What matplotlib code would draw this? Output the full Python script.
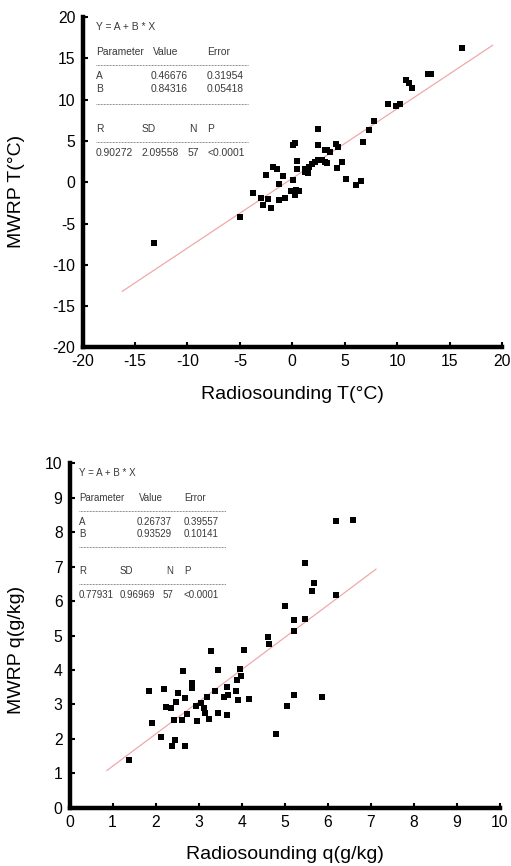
import matplotlib
matplotlib.use("Agg")
import matplotlib.pyplot as plt
from matplotlib.lines import Line2D
import numpy as np

plt.rcParams['font.family'] = ['Liberation Sans', 'DejaVu Sans']
plt.rcParams['axes.unicode_minus'] = False

# ---------------- data: temperature panel ----------------
t_radio = [16.2, 12.9, 13.2, 10.8, 11.1, 11.4, 9.1, 9.9, 10.3, 7.8, 7.35, 6.75, 6.6, 6.1, 5.1,
           4.75, 4.25, 4.2, 4.4, 3.6, 3.3, 3.15, 2.5, 2.5, 3.15, 2.85, 2.5, 2.2, 1.85, 1.55,
           1.25, 1.25, 1.5, 0.45, 0.45, 0.1, 0.3, 0.05, -0.15, 0.4, 0.3, 0.6, -0.65, -1.3, -1.3,
           -0.85, -1.8, -1.45, -2.5, -3.75, -3.0, -2.35, -2.75, -2.05, -5.0, -13.2, 3.3]
t_mwrp = [16.2, 13.1, 13.1, 12.35, 12.05, 11.45, 9.45, 9.25, 9.45, 7.4, 6.35, 4.9, 0.2, -0.35, 0.4,
          2.5, 1.7, 4.65, 4.25, 3.65, 3.95, 3.85, 6.45, 4.45, 2.5, 2.65, 2.65, 2.5, 2.25, 1.85,
          1.65, 1.25, 1.15, 2.55, 1.6, 4.5, 4.75, 0.25, -1.1, -0.95, -1.55, -1.1, -1.95, -2.15, -0.25,
          0.75, 1.85, 1.55, 0.9, -1.35, -1.9, -2.05, -2.7, -3.15, -4.25, -7.4, 2.35]
t_fit = (0.46676, 0.84316)
t_line_x = [-16.2, 19.1]
t_ticks = [-20, -15, -10, -5, 0, 5, 10, 15, 20]
t_table = {
    "eq": "Y = A + B * X",
    "head": ["Parameter", "Value", "Error"],
    "A": ["A", "0.46676", "0.31954"],
    "B": ["B", "0.84316", "0.05418"],
    "stat_head": ["R", "SD", "N", "P"],
    "stat": ["0.90272", "2.09558", "57", "<0.0001"],
}

# ---------------- data: humidity panel ----------------
q_radio = [1.38, 1.85, 1.91, 2.12, 2.19, 2.24, 2.35, 2.44, 2.38, 2.42, 2.48, 2.52, 2.63, 2.62, 2.68,
           2.69, 2.73, 2.85, 2.85, 2.96, 2.94, 3.05, 3.12, 3.14, 3.19, 3.23, 3.28, 3.38, 3.46, 3.46,
           3.6, 3.66, 3.69, 3.65, 3.87, 3.88, 3.91, 3.95, 3.99, 4.05, 4.17, 4.6, 4.63, 4.79, 5.01,
           5.05, 5.22, 5.22, 5.22, 5.48, 5.48, 5.63, 5.69, 5.87, 6.2, 6.2, 6.59]
q_mwrp = [1.38, 3.4, 2.45, 2.06, 3.45, 2.93, 2.9, 1.98, 1.79, 2.55, 3.08, 3.32, 3.98, 2.55, 1.79,
          3.18, 2.72, 3.61, 3.47, 2.52, 2.95, 3.05, 2.89, 2.76, 3.2, 2.59, 4.55, 3.4, 4.0, 2.76,
          3.22, 3.51, 3.27, 2.69, 3.4, 3.71, 3.13, 4.02, 3.82, 4.58, 3.17, 4.97, 4.75, 2.13, 5.87,
          2.95, 5.45, 5.12, 3.27, 7.1, 5.48, 6.3, 6.51, 3.2, 8.33, 6.18, 8.34]
q_fit = (0.26737, 0.93529)
q_line_x = [0.87, 7.12]
q_ticks = list(range(0, 11))
q_table = {
    "eq": "Y = A + B * X",
    "head": ["Parameter", "Value", "Error"],
    "A": ["A", "0.26737", "0.39557"],
    "B": ["B", "0.93529", "0.10141"],
    "stat_head": ["R", "SD", "N", "P"],
    "stat": ["0.77931", "0.96969", "57", "<0.0001"],
}

W, H = 511, 866
fig = plt.figure(figsize=(W / 100, H / 100), dpi=100)
fig.patch.set_facecolor('white')


def style_axes(ax, lim, ticks):
    ax.set_xlim(lim)
    ax.set_ylim(lim)
    ax.set_xticks(ticks)
    ax.set_yticks(ticks)
    for s in ['top', 'right']:
        ax.spines[s].set_visible(False)
    for s in ['left', 'bottom']:
        ax.spines[s].set_linewidth(3.2)
        ax.spines[s].set_color('black')
        ax.spines[s].set_capstyle('projecting')
    ax.tick_params(direction='in', length=3.5, width=1.5, labelsize=11.3, pad=5, colors='black')
    ax.set_facecolor('white')


def draw_table(tab, fs, px):
    col = '#3a3a3a'
    def t(x, y, s, ha='left'):
        fig.text(x / W, 1 - y / H, s, ha=ha, va='center', fontsize=fs, color=col)
    def dash(y):
        fig.add_artist(Line2D([px['x0'] / W, px['xend'] / W], [1 - y / H, 1 - y / H],
                              transform=fig.transFigure, ls=(0, (1, 0.8)), lw=0.6, color='#666666'))
    t(px['x0'], px['y_eq'], tab['eq'])
    t(px['x0'], px['y_head'], tab['head'][0])
    t(px['x_val'], px['y_head'], tab['head'][1])
    t(px['x_err'], px['y_head'], tab['head'][2])
    dash(px['d1'])
    for key, yy in (('A', px['y_A']), ('B', px['y_B'])):
        t(px['x0'], yy, tab[key][0])
        t(px['x_valr'], yy, tab[key][1], ha='right')
        t(px['x_err'], yy, tab[key][2])
    dash(px['d2'])
    sx = [px['x0'], px['x_sd'], px['x_n'], px['x_err']]
    for x, s in zip(sx, tab['stat_head']):
        t(x, px['y_R'], s)
    dash(px['d3'])
    sx2 = [px['x0'], px['x_sd'], px['x_n57'], px['x_err']]
    for x, s in zip(sx2, tab['stat']):
        t(x, px['y_stat'], s)


# ---------------- top panel ----------------
ax1 = fig.add_axes([82.5 / W, 1 - 347.5 / H, 419.5 / W, 330.5 / H])
style_axes(ax1, (-20, 20), t_ticks)
lx = np.array(t_line_x)
ax1.plot(lx, t_fit[0] + t_fit[1] * lx, color='#f0a8ac', lw=0.9, zorder=2)
ax1.scatter(t_radio, t_mwrp, marker='s', s=22, color='black', zorder=3, linewidths=0)
ax1.set_xlabel('Radiosounding T(°C)', fontsize=14)
ax1.set_ylabel('MWRP T(°C)', fontsize=14)
ax1.xaxis.set_label_coords(0.5, -0.115)
ax1.yaxis.set_label_coords(-0.137, 0.473)

draw_table(t_table, 7.4, dict(x0=96, xend=248, y_eq=27, y_head=52, x_val=153, x_err=207, d1=65,
                              y_A=76, y_B=89, x_valr=188, d2=104, y_R=129, x_sd=142, x_n=189,
                              d3=142, y_stat=153, x_n57=188))

# ---------------- bottom panel ----------------
ax2 = fig.add_axes([69.5 / W, 1 - 807.7 / H, 430.5 / W, 344.4 / H])
style_axes(ax2, (0, 10), q_ticks)
lx2 = np.array(q_line_x)
ax2.plot(lx2, q_fit[0] + q_fit[1] * lx2, color='#f0a8ac', lw=0.9, zorder=2)
ax2.scatter(q_radio, q_mwrp, marker='s', s=22, color='black', zorder=3, linewidths=0)
ax2.set_xlabel('Radiosounding q(g/kg)', fontsize=14)
ax2.set_ylabel('MWRP q(g/kg)', fontsize=14)
ax2.xaxis.set_label_coords(0.5, -0.11)
ax2.yaxis.set_label_coords(-0.103, 0.458)

draw_table(q_table, 7.0, dict(x0=79, xend=226, y_eq=473, y_head=498, x_val=139, x_err=184, d1=511,
                              y_A=522, y_B=534, x_valr=172, d2=547, y_R=571, x_sd=120, x_n=166,
                              d3=584, y_stat=595, x_n57=163))

fig.savefig('out.png', dpi=100, facecolor='white')
